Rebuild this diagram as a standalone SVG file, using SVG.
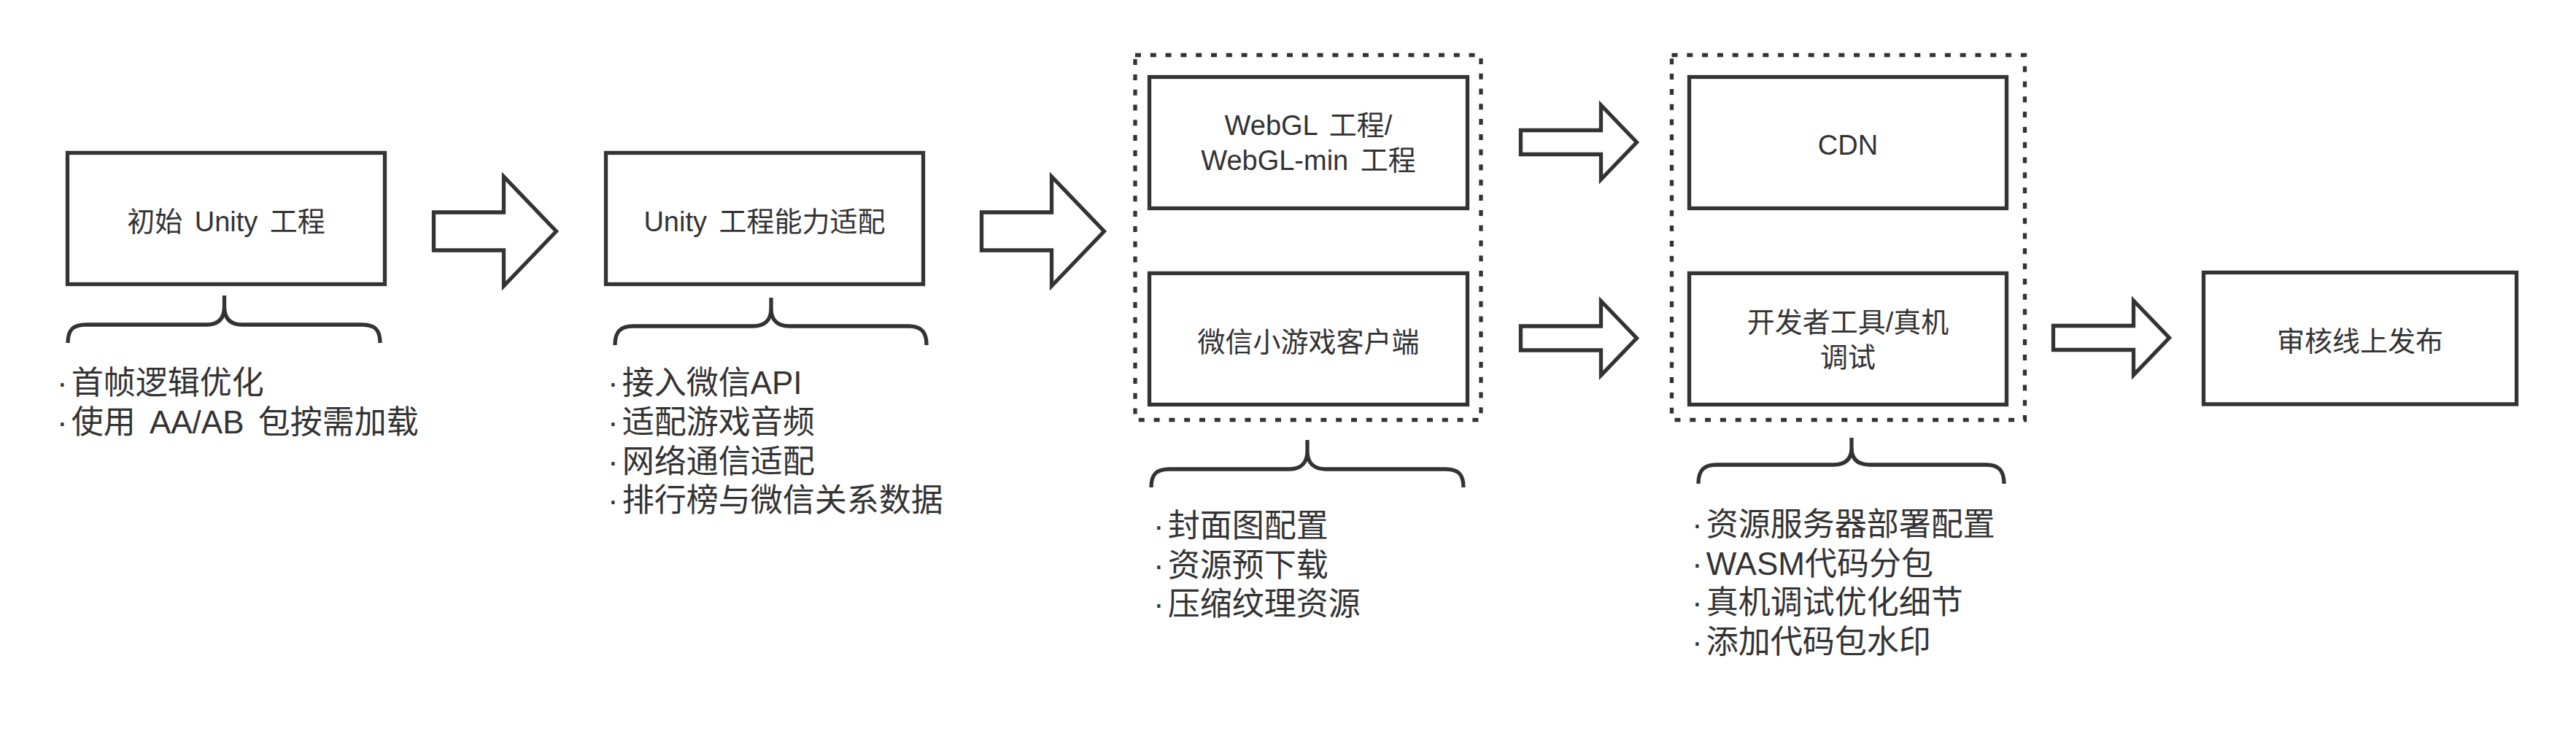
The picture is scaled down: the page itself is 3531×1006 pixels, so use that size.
<svg xmlns="http://www.w3.org/2000/svg" width="3531" height="1006" viewBox="0 0 3531 1006">
  <style>
    .box { fill: #ffffff; stroke: #333333; stroke-width: 5.3; }
    .group { fill: none; stroke: #333333; stroke-width: 5.3; stroke-dasharray: 8 12.8; }
    .arrow { fill: #ffffff; stroke: #333333; stroke-width: 5.3; stroke-linejoin: miter; stroke-miterlimit: 10; }
    .brace { fill: none; stroke: #333333; stroke-width: 5.3; stroke-linecap: butt; }
    .label { font-family: "Liberation Sans", "Noto Sans CJK SC", sans-serif; font-size: 38px; fill: #333333; text-anchor: middle; word-spacing: 6px; }
    .list { font-family: "Liberation Sans", "Noto Sans CJK SC", sans-serif; font-size: 44px; fill: #333333; word-spacing: 7px; }
  </style>
  <defs>
    <polygon id="bigArrow" points="0,-26 96,-26 96,-75 168,0 96,75 96,26 0,26"/>
    <polygon id="smallArrow" points="0,-16.5 110,-16.5 110,-51 159,0 110,51 110,16.5 0,16.5"/>
  </defs>
  <rect width="3531" height="1006" fill="#ffffff"/>

  <g id="group-build">
    <rect class="group" x="1556" y="75.5" width="474" height="500"/>
  </g>
  <g id="group-deploy">
    <rect class="group" x="2291.5" y="75.5" width="484" height="500"/>
  </g>

  <g id="node-initial">
    <rect class="box" x="92.5" y="209.5" width="435" height="180"/>
    <text class="label" x="310" y="317">初始 Unity 工程</text>
  </g>
  <g id="node-adapt">
    <rect class="box" x="830.5" y="209.5" width="435" height="180"/>
    <text class="label" x="1048" y="317">Unity 工程能力适配</text>
  </g>
  <g id="node-webgl">
    <rect class="box" x="1575.5" y="105.5" width="436" height="180"/>
    <text class="label" x="1793.5" y="185">WebGL 工程/</text>
    <text class="label" x="1793.5" y="233">WebGL-min 工程</text>
  </g>
  <g id="node-client">
    <rect class="box" x="1575.5" y="374.5" width="436" height="180"/>
    <text class="label" x="1793.5" y="482">微信小游戏客户端</text>
  </g>
  <g id="node-cdn">
    <rect class="box" x="2315.5" y="105.5" width="435" height="180"/>
    <text class="label" x="2533" y="212">CDN</text>
  </g>
  <g id="node-devtools">
    <rect class="box" x="2315.5" y="374.5" width="435" height="180"/>
    <text class="label" x="2533" y="454.5">开发者工具/真机</text>
    <text class="label" x="2533" y="502.5">调试</text>
  </g>
  <g id="node-release">
    <rect class="box" x="3020.5" y="373.5" width="429" height="180.5"/>
    <text class="label" x="3235" y="481">审核线上发布</text>
  </g>

  <g id="note-initial">
    <path class="brace" d="M 93 470 C 93 452 100 445 118 445 L 283 445 C 300 445 307.5 436 307.5 420 L 307.5 405 M 307.5 405 L 307.5 420 C 307.5 436 315 445 332 445 L 496 445 C 514 445 521 452 521 470"/>
    <text class="list"><tspan x="78" y="540">·</tspan><tspan dx="5">首帧逻辑优化</tspan><tspan x="78" y="594">·</tspan><tspan dx="5">使用 AA/AB 包按需加载</tspan></text>
  </g>
  <g id="note-adapt">
    <path class="brace" d="M 843 473 C 843 455 850 447 868 447 L 1032 447 C 1049 447 1057 438 1057 423 L 1057 408 M 1057 408 L 1057 423 C 1057 438 1065 447 1082 447 L 1245 447 C 1263 447 1270 455 1270 473"/>
    <text class="list"><tspan x="833" y="540">·</tspan><tspan dx="5">接入微信API</tspan><tspan x="833" y="594">·</tspan><tspan dx="5">适配游戏音频</tspan><tspan x="833" y="647.5">·</tspan><tspan dx="5">网络通信适配</tspan><tspan x="833" y="701">·</tspan><tspan dx="5">排行榜与微信关系数据</tspan></text>
  </g>
  <g id="note-build">
    <path class="brace" d="M 1578 668 C 1578 650 1585 643 1603 643 L 1767 643 C 1784 643 1792 634 1792 618 L 1792 603 M 1792 603 L 1792 618 C 1792 634 1800 643 1817 643 L 1981 643 C 1999 643 2006 650 2006 668"/>
    <text class="list"><tspan x="1581" y="736">·</tspan><tspan dx="5">封面图配置</tspan><tspan x="1581" y="789.5">·</tspan><tspan dx="5">资源预下载</tspan><tspan x="1581" y="843">·</tspan><tspan dx="5">压缩纹理资源</tspan></text>
  </g>
  <g id="note-deploy">
    <path class="brace" d="M 2328 663 C 2328 645 2335 637 2353 637 L 2513 637 C 2530 637 2538 629 2538 614 L 2538 600 M 2538 600 L 2538 614 C 2538 629 2546 637 2563 637 L 2722 637 C 2740 637 2747 645 2747 663"/>
    <text class="list"><tspan x="2319" y="734">·</tspan><tspan dx="5">资源服务器部署配置</tspan><tspan x="2319" y="787.5">·</tspan><tspan dx="5">WASM代码分包</tspan><tspan x="2319" y="841">·</tspan><tspan dx="5">真机调试优化细节</tspan><tspan x="2319" y="894.5">·</tspan><tspan dx="5">添加代码包水印</tspan></text>
  </g>

  <g id="connectors">
    <use href="#bigArrow" class="arrow" x="594.5" y="317"/>
    <use href="#bigArrow" class="arrow" x="1345.5" y="317"/>
    <use href="#smallArrow" class="arrow" x="2084.5" y="195"/>
    <use href="#smallArrow" class="arrow" x="2084.5" y="463.5"/>
    <use href="#smallArrow" class="arrow" x="2814.5" y="463"/>
  </g>
</svg>
